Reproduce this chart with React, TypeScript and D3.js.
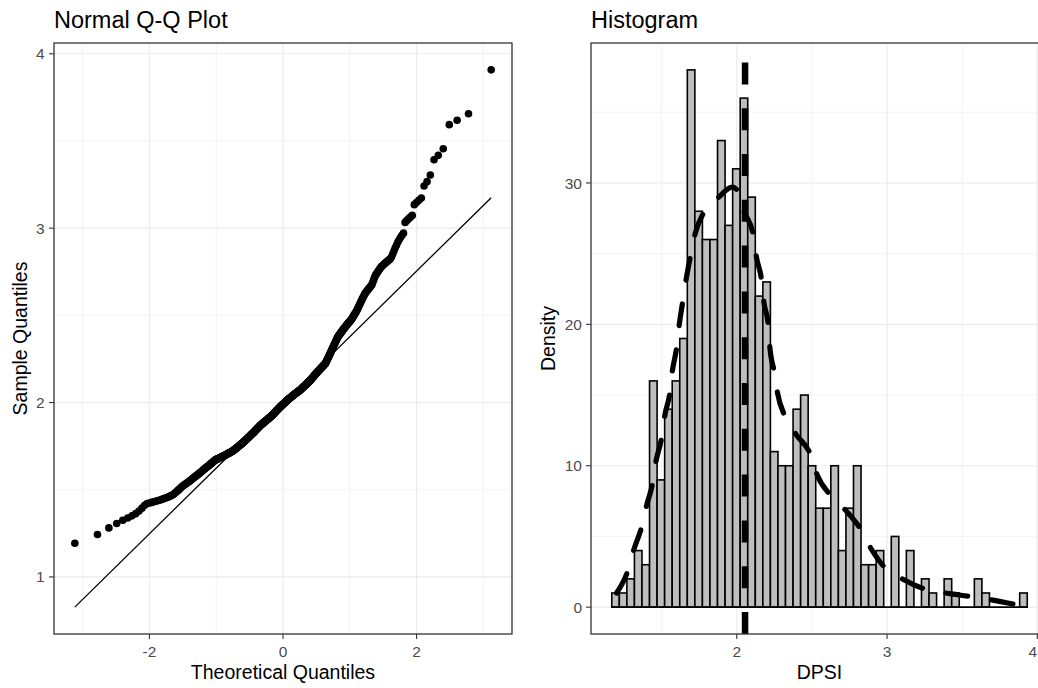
import React from 'react';
import * as d3 from 'd3';

// Histogram counts, 55 bins
const histCounts = [
  1, 1, 2, 4, 3, 16, 9, 14, 16, 19,
  38, 28, 26, 26, 33, 27, 31, 36, 29, 22, 23,
  11, 10, 10, 14, 15, 10, 7, 7, 10, 4, 7, 10, 3, 3, 4,
  0, 5, 0, 4, 0, 2, 1, 0, 2, 1, 0, 0, 2, 1, 0, 0, 0, 0, 1,
];
const histStart = 1.168;
const histBinWidth = 0.05027;

// Dashed density curve (x, scaled density)
const densityX = [1.2, 1.28, 1.31, 1.37, 1.4, 1.44, 1.46, 1.5, 1.52, 1.555, 1.57, 1.6, 1.615, 1.64, 1.66, 1.695, 1.72, 1.78, 1.88, 1.97, 2.01, 2.045, 2.11, 2.13, 2.165, 2.18, 2.21, 2.22, 2.25, 2.27, 2.32, 2.395, 2.49, 2.535, 2.625, 2.72, 2.825, 2.89, 2.985, 3.1, 3.245, 3.39, 3.55, 3.685, 3.855];
const densityY = [1.0, 2.75, 3.9, 5.8, 7.2, 8.8, 10.2, 12.0, 13.5, 15.2, 16.6, 18.4, 19.8, 21.6, 23.0, 25.0, 26.3, 27.9, 29.0, 29.7, 29.4, 28.1, 26.3, 24.8, 23.1, 21.6, 19.9, 18.4, 16.6, 15.2, 13.5, 12.2, 10.8, 9.35, 7.9, 6.9, 5.5, 4.2, 2.8, 2.0, 1.3, 1.0, 0.76, 0.53, 0.18];

const meanValue = 2.055;

const qqXTicks = [-2, 0, 2];
const qqXMinor = [-3, -1, 1, 3];
const qqYTicks = [1, 2, 3, 4];
const qqYMinor = [1.5, 2.5, 3.5];
const histXTicks = [2, 3, 4];
const histXMinor = [1.5, 2.5, 3.5];
const histYTicks = [0, 10, 20, 30];
const histYMinor = [5, 15, 25, 35];

// sample values derived from the histogram bins
const sample: number[] = histCounts
  .flatMap((c, i) => d3.range(c).map((j) => histStart + (i + (j + 0.5) / c) * histBinWidth))
  .sort((a, b) => a - b);

function qnorm(p: number): number {
  const a = [-3.969683028665376e1, 2.209460984245205e2, -2.759285104469687e2, 1.38357751867269e2, -3.066479806614716e1, 2.506628277459239];
  const b = [-5.447609879822406e1, 1.615858368580409e2, -1.556989798598866e2, 6.680131188771972e1, -1.328068155288572e1];
  const c = [-7.784894002430293e-3, -3.223964580411365e-1, -2.400758277161838, -2.549732539343734, 4.374664141464968, 2.938163982698783];
  const d = [7.784695709041462e-3, 3.224671290700398e-1, 2.445134137142996, 3.754408661907416];
  const pl = 0.02425;
  if (p < pl) {
    const q = Math.sqrt(-2 * Math.log(p));
    return (((((c[0] * q + c[1]) * q + c[2]) * q + c[3]) * q + c[4]) * q + c[5]) / ((((d[0] * q + d[1]) * q + d[2]) * q + d[3]) * q + 1);
  }
  if (p <= 1 - pl) {
    const q = p - 0.5;
    const r = q * q;
    return ((((((a[0] * r + a[1]) * r + a[2]) * r + a[3]) * r + a[4]) * r + a[5]) * q) / (((((b[0] * r + b[1]) * r + b[2]) * r + b[3]) * r + b[4]) * r + 1);
  }
  const q = Math.sqrt(-2 * Math.log(1 - p));
  return -(((((c[0] * q + c[1]) * q + c[2]) * q + c[3]) * q + c[4]) * q + c[5]) / ((((d[0] * q + d[1]) * q + d[2]) * q + d[3]) * q + 1);
}

const FONT = "'Liberation Sans', Arial, Helvetica, sans-serif";
const GRID = '#EBEBEB';
const BORDER = '#333333';
const TICKTXT = '#4D4D4D';

function expand(lo: number, hi: number): [number, number] {
  const e = (hi - lo) * 0.05;
  return [lo - e, hi + e];
}

export default function App() {
  const W = 1038;
  const H = 688;
  const top = 43;
  const bottom = 634;

  // ---------- QQ panel ----------
  const n = sample.length;
  const theo = sample.map((_, i) => qnorm((i + 1 - 0.5) / n));
  const q1 = d3.quantile(sample, 0.25)!;
  const q3 = d3.quantile(sample, 0.75)!;
  const z1 = qnorm(0.25);
  const z3 = qnorm(0.75);
  const slope = (q3 - q1) / (z3 - z1);
  const intercept = q1 - slope * z1;
  const tMin = d3.min(theo)!;
  const tMax = d3.max(theo)!;
  const lineY0 = intercept + slope * tMin;
  const lineY1 = intercept + slope * tMax;

  const qL = 54;
  const qR = 512;
  const qx = d3.scaleLinear().domain(expand(tMin, tMax)).range([qL, qR]);
  const qyLo = Math.min(d3.min(sample)!, lineY0);
  const qyHi = Math.max(d3.max(sample)!, lineY1);
  const qy = d3.scaleLinear().domain(expand(qyLo, qyHi)).range([bottom, top]);

  // ---------- Histogram panel ----------
  const hL = 591;
  const hR = 1048;
  const histEnd = histStart + histCounts.length * histBinWidth;
  const hx = d3.scaleLinear().domain(expand(histStart, histEnd)).range([hL, hR]);
  const hy = d3.scaleLinear().domain(expand(0, d3.max(histCounts)!)).range([bottom, top]);

  const densityPts: [number, number][] = densityX.map((x, i) => [x, densityY[i]]);
  const densityPath = d3
    .line<[number, number]>()
    .x((d) => hx(d[0]))
    .y((d) => hy(d[1]))
    .curve(d3.curveMonotoneX)(densityPts)!;

  return (
    <div style={{ position: 'absolute', left: 0, top: 0 }}>
      <svg width={W} height={H} style={{ display: 'block', background: '#fff' }} fontFamily={FONT}>
        <rect x={0} y={0} width={W} height={H} fill="#fff" />

        {/* ===== QQ panel ===== */}
        <g>
          {qqXMinor.map((t) => (
            <line key={'qxm' + t} x1={qx(t)} x2={qx(t)} y1={top} y2={bottom} stroke={GRID} strokeWidth={0.6} />
          ))}
          {qqYMinor.map((t) => (
            <line key={'qym' + t} x1={qL} x2={qR} y1={qy(t)} y2={qy(t)} stroke={GRID} strokeWidth={0.6} />
          ))}
          {qqXTicks.map((t) => (
            <line key={'qx' + t} x1={qx(t)} x2={qx(t)} y1={top} y2={bottom} stroke={GRID} strokeWidth={1.2} />
          ))}
          {qqYTicks.map((t) => (
            <line key={'qy' + t} x1={qL} x2={qR} y1={qy(t)} y2={qy(t)} stroke={GRID} strokeWidth={1.2} />
          ))}
          <line x1={qx(tMin)} y1={qy(lineY0)} x2={qx(tMax)} y2={qy(lineY1)} stroke="#000" strokeWidth={1.3} />
          {sample.map((s, i) => (
            <circle key={'p' + i} cx={qx(theo[i])} cy={qy(s)} r={3.8} fill="#000" />
          ))}
          <rect x={qL} y={top} width={qR - qL} height={bottom - top} fill="none" stroke={BORDER} strokeWidth={1.3} />
          {qqXTicks.map((t) => (
            <g key={'qxt' + t}>
              <line x1={qx(t)} x2={qx(t)} y1={bottom} y2={bottom + 5} stroke={BORDER} strokeWidth={1.1} />
              <text x={qx(t)} y={656.5} textAnchor="middle" fontSize={15.5} fill={TICKTXT}>
                {t}
              </text>
            </g>
          ))}
          {qqYTicks.map((t) => (
            <g key={'qyt' + t}>
              <line x1={qL - 5} x2={qL} y1={qy(t)} y2={qy(t)} stroke={BORDER} strokeWidth={1.1} />
              <text x={44.5} y={qy(t)} dy="0.36em" textAnchor="end" fontSize={15.5} fill={TICKTXT}>
                {t}
              </text>
            </g>
          ))}
          <text x={qL} y={27.5} fontSize={23.5} fill="#000">
            Normal Q-Q Plot
          </text>
          <text x={(qL + qR) / 2} y={678.5} textAnchor="middle" fontSize={19.5} fill="#000">
            Theoretical Quantiles
          </text>
          <text transform={`translate(27,${(top + bottom) / 2}) rotate(-90)`} textAnchor="middle" fontSize={19.5} fill="#000">
            Sample Quantiles
          </text>
        </g>

        {/* ===== Histogram panel ===== */}
        <g>
          {histXMinor.map((t) => (
            <line key={'hxm' + t} x1={hx(t)} x2={hx(t)} y1={top} y2={bottom} stroke={GRID} strokeWidth={0.6} />
          ))}
          {histYMinor.map((t) => (
            <line key={'hym' + t} x1={hL} x2={hR} y1={hy(t)} y2={hy(t)} stroke={GRID} strokeWidth={0.6} />
          ))}
          {histXTicks.map((t) => (
            <line key={'hx' + t} x1={hx(t)} x2={hx(t)} y1={top} y2={bottom} stroke={GRID} strokeWidth={1.2} />
          ))}
          {histYTicks.map((t) => (
            <line key={'hy' + t} x1={hL} x2={hR} y1={hy(t)} y2={hy(t)} stroke={GRID} strokeWidth={1.2} />
          ))}
          {histCounts.map((c, i) =>
            c > 0 ? (
              <rect
                key={'b' + i}
                x={hx(histStart + i * histBinWidth)}
                y={hy(c)}
                width={hx(histStart + (i + 1) * histBinWidth) - hx(histStart + i * histBinWidth)}
                height={hy(0) - hy(c)}
                fill="#BEBEBE"
                stroke="#000"
                strokeWidth={1.6}
              />
            ) : null
          )}
          <line x1={hx(histStart)} x2={hx(histEnd)} y1={hy(0)} y2={hy(0)} stroke="#000" strokeWidth={1.6} />
          <path d={densityPath} fill="none" stroke="#000" strokeWidth={5.2} strokeLinecap="round" strokeDasharray="22 24" />
          <line
            x1={hx(meanValue)}
            x2={hx(meanValue)}
            y1={bottom}
            y2={top}
            stroke="#000"
            strokeWidth={6.5}
            strokeDasharray="22 23.8"
          />
          <rect x={hL} y={top} width={hR - hL} height={bottom - top} fill="none" stroke={BORDER} strokeWidth={1.3} />
          {histXTicks.map((t) => {
            const px = hx(t);
            const nearEdge = px + 6 > W;
            return (
              <g key={'hxt' + t}>
                <line x1={px} x2={px} y1={bottom} y2={bottom + 5} stroke={BORDER} strokeWidth={1.1} />
                <text
                  x={nearEdge ? W - 1 : px}
                  y={656.5}
                  textAnchor={nearEdge ? 'end' : 'middle'}
                  fontSize={15.5}
                  fill={TICKTXT}
                >
                  {t}
                </text>
              </g>
            );
          })}
          {histYTicks.map((t) => (
            <g key={'hyt' + t}>
              <line x1={hL - 5} x2={hL} y1={hy(t)} y2={hy(t)} stroke={BORDER} strokeWidth={1.1} />
              <text x={582} y={hy(t)} dy="0.36em" textAnchor="end" fontSize={15.5} fill={TICKTXT}>
                {t}
              </text>
            </g>
          ))}
          <text x={hL} y={27.5} fontSize={23.5} fill="#000">
            Histogram
          </text>
          <text x={(hL + hR) / 2} y={678.5} textAnchor="middle" fontSize={19.5} fill="#000">
            DPSI
          </text>
          <text transform={`translate(555,${(top + bottom) / 2}) rotate(-90)`} textAnchor="middle" fontSize={19.5} fill="#000">
            Density
          </text>
        </g>
      </svg>
    </div>
  );
}
